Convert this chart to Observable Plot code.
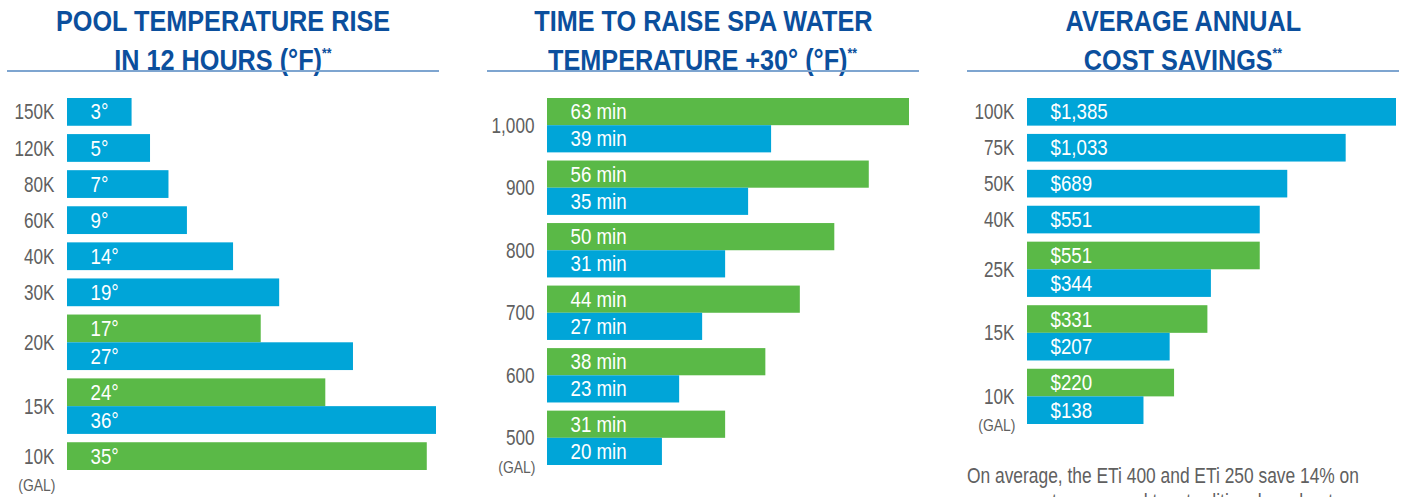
<!DOCTYPE html>
<html><head><meta charset="utf-8">
<script src="https://cdn.jsdelivr.net/npm/d3@7"></script>
<script src="https://cdn.jsdelivr.net/npm/@observablehq/plot@0.6"></script>
<style>
body{margin:0;background:#fff;}
#wrap{position:relative;width:1405px;height:497px;overflow:hidden;font-family:"Liberation Sans",Arial,sans-serif;}
.panel{position:absolute;top:0;width:432px;height:497px;}
.title{position:absolute;left:0;top:5px;width:432px;text-align:center;color:#0b4f9d;font-weight:bold;font-size:29px;line-height:32px;white-space:nowrap;}
.title span.in{display:inline-block;transform:scaleX(0.87);transform-origin:50% 50%;}
.ast{font-size:14px;vertical-align:12px;}
.rule{position:absolute;left:0;top:70px;width:432px;height:2px;background:#7ea5d0;}
.chart{position:absolute;left:0;top:85px;width:440px;}
.chart svg{overflow:visible;max-width:none !important;}
.note{position:absolute;left:0;top:463px;width:600px;font-size:22px;line-height:26px;color:#606060;white-space:nowrap;transform:scaleX(0.79);transform-origin:0 0;}
</style></head>
<body><div id="wrap"></div>
<script>
// ---- data ----
const seriesNames = ["A", "B"]; // A = green (upper) bar, B = blue (lower) bar

const poolSizes = ["150K","120K","80K","60K","40K","30K","20K","15K","10K"];
const poolA = [null,null,null,null,null,null,17,24,35];
const poolB = [3,5,7,9,14,19,27,36,null];

const spaSizes = ["1,000","900","800","700","600","500"];
const spaA = [63,56,50,44,38,31];
const spaB = [39,35,31,27,23,20];

const costSizes = ["100K","75K","50K","40K","25K","15K","10K"];
const costA = [null,null,null,null,551,331,220];
const costB = [1385,1033,689,551,344,207,138];

const titles = [
  ["POOL TEMPERATURE RISE", "IN 12 HOURS (°F)"],
  ["TIME TO RAISE SPA WATER", "TEMPERATURE +30° (°F)"],
  ["AVERAGE ANNUAL", "COST SAVINGS"]
];
const unitLabel = "(GAL)";
const noteLines = ["On average, the ETi 400 and ETi 250 save 14% on", "energy costs compared to a traditional gas heater."];

// ---- style ----
const GREEN = "#5ab947", BLUE = "#00a5d8", GRAY = "#606060";
const FONT = '"Liberation Sans",Arial,sans-serif';
const GAP = 0.3;

function buildRows(cats, a, b){
  const rows = [], groups = [];
  let pos = 0;
  cats.forEach((c, i) => {
    if (i > 0) pos += GAP;
    const start = pos;
    [[seriesNames[0], a[i]], [seriesNames[1], b[i]]].forEach(([s, v]) => {
      if (v != null) { rows.push({cat: c, series: s, value: v, y1: pos, y2: pos + 1}); pos += 1; }
    });
    groups.push({cat: c, ym: (start + pos) / 2});
  });
  return {rows, groups, total: pos};
}

function squeeze(svg, factors){
  const gs = svg.querySelectorAll('g[aria-label="text"]');
  gs.forEach((g, k) => {
    const f = factors[k] ?? 1;
    g.querySelectorAll("text").forEach(t => {
      let tr = t.getAttribute("transform");
      if (!tr) {
        const x = t.getAttribute("x") || 0, y = t.getAttribute("y") || 0;
        t.removeAttribute("x"); t.removeAttribute("y");
        tr = `translate(${x},${y})`;
      }
      t.setAttribute("transform", tr + ` scale(${f},1)`);
    });
  });
  return svg;
}

function makeChart({cats, a, b, fmt, x, xmin, marginRight, marginBottom}){
  const {rows, groups, total} = buildRows(cats, a, b);
  const svg = Plot.plot({
    width: 440, height: 412,
    marginLeft: 60, marginRight, marginTop: 13, marginBottom,
    style: {fontFamily: FONT, background: "transparent", maxWidth: "none"},
    x: {...x, axis: null},
    y: {domain: [0, total], reverse: true, axis: null},
    color: {type: "ordinal", domain: seriesNames, range: [GREEN, BLUE]},
    marks: [
      Plot.rectX(rows, {x1: xmin, x2: "value", y1: "y1", y2: "y2", fill: "series"}),
      Plot.text(rows, {x: xmin, y: d => (d.y1 + d.y2) / 2, text: d => fmt(d.value), dx: 23, textAnchor: "start", fill: "white", fontSize: 22}),
      Plot.text(groups, {x: xmin, y: "ym", text: "cat", dx: -13, textAnchor: "end", fill: GRAY, fontSize: 22}),
      Plot.text(groups.slice(-1), {x: xmin, y: "ym", text: () => unitLabel, dx: -12, dy: 29, textAnchor: "end", fill: GRAY, fontSize: 17})
    ]
  });
  return squeeze(svg, [0.85, 0.78, 0.82]);
}

const wrap = document.getElementById("wrap");
const lefts = [7, 487, 967];
const charts = [
  makeChart({cats: poolSizes, a: poolA, b: poolB, fmt: v => `${v}°`,
    x: {type: "linear", domain: [-4, 36]}, xmin: -4, marginRight: 11, marginBottom: 27}),
  makeChart({cats: spaSizes, a: spaA, b: spaB, fmt: v => `${v} min`,
    x: {type: "linear", domain: [0, 63]}, xmin: 0, marginRight: 18, marginBottom: 32}),
  makeChart({cats: costSizes, a: costA, b: costB, fmt: v => "$" + d3.format(",")(v),
    x: {type: "sqrt", domain: [0, 1385]}, xmin: 0, marginRight: 11, marginBottom: 73})
];
charts.forEach((svg, i) => {
  const p = document.createElement("div");
  p.className = "panel"; p.style.left = lefts[i] + "px";
  const t = document.createElement("div"); t.className = "title";
  t.innerHTML = `<span class="in">${titles[i][0]}</span><br><span class="in">${titles[i][1]}<span class="ast">**</span></span>`;
  const r = document.createElement("div"); r.className = "rule";
  const c = document.createElement("div"); c.className = "chart"; c.appendChild(svg);
  p.append(t, r, c);
  if (i === 2) { const n = document.createElement("div"); n.className = "note"; n.innerHTML = noteLines.join("<br>"); p.appendChild(n); }
  wrap.appendChild(p);
});
</script></body></html>
